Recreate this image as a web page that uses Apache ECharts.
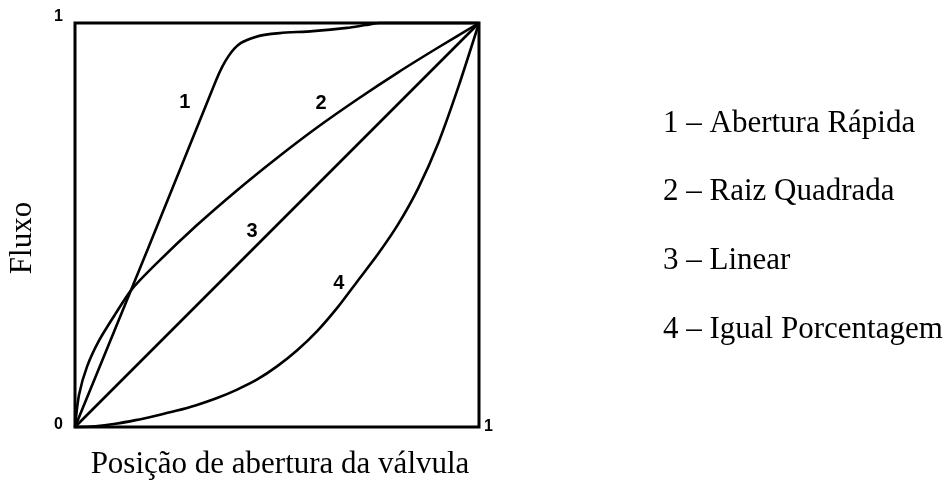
<!DOCTYPE html>
<html>
<head>
<meta charset="utf-8">
<title>Característica de vazão de válvulas</title>
<script src="https://cdn.jsdelivr.net/npm/echarts@6/dist/echarts.min.js"></script>
<style>
  html, body { margin: 0; padding: 0; background: #fff; }
  #chart { width: 952px; height: 483px; }
</style>
</head>
<body>
<div id="chart"></div>
<script>
// Inherent flow characteristics: relative flow vs. relative valve opening (0..1)

// 1 – quick opening
const quickOpening = [
  [0, 0], [0.18, 0.44], [0.35, 0.86], [0.364, 0.891], [0.38, 0.918],
  [0.395, 0.937], [0.41, 0.950], [0.426, 0.958], [0.445, 0.965],
  [0.465, 0.970], [0.507, 0.975], [0.589, 0.980], [0.673, 0.988],
  [0.72, 0.995], [0.755, 1.0], [1, 1]
];

// 2 – square root
const squareRoot = [
  [0, 0], [0.01, 0.08], [0.03, 0.15], [0.06, 0.215], [0.10, 0.28],
  [0.14, 0.34], [0.20, 0.403], [0.30, 0.498], [0.40, 0.585],
  [0.50, 0.666], [0.60, 0.742], [0.70, 0.812], [0.80, 0.878],
  [0.90, 0.940], [1, 1]
];

// 3 – linear
const linear = [
  [0, 0], [1, 1]
];

// 4 – equal percentage
const equalPercentage = [
  [0, 0], [0.05, 0.002], [0.10, 0.008], [0.15, 0.017], [0.20, 0.028],
  [0.25, 0.040], [0.30, 0.054], [0.35, 0.071], [0.40, 0.092],
  [0.45, 0.117], [0.50, 0.150], [0.55, 0.190], [0.60, 0.238],
  [0.65, 0.296], [0.70, 0.362], [0.75, 0.428], [0.80, 0.502],
  [0.85, 0.592], [0.90, 0.705], [0.95, 0.845], [1, 1]
];

// Numerals written next to each curve: [x, y, text]
const curveTags = [
  [0.272, 0.804, '1'],
  [0.609, 0.802, '2'],
  [0.438, 0.483, '3'],
  [0.653, 0.354, '4']
];

// Key on the right-hand side
const legendLines = [
  '1 – Abertura Rápida',
  '2 – Raiz Quadrada',
  '3 – Linear',
  '4 – Igual Porcentagem'
];

// Axis tick text
const yTickLabels = { 0: '0', 1: '1' };
const xTickLabels = { 1: '1' };

const xTitle = 'Posição de abertura da válvula';
const yTitle = 'Fluxo';

const serif = '"Liberation Serif", "Times New Roman", serif';
const sans = '"Liberation Sans", Arial, sans-serif';
const ink = '#000';

const chart = echarts.init(document.getElementById('chart'), null, { renderer: 'canvas' });

function curve(name, data) {
  return {
    name: name,
    type: 'line',
    data: data,
    showSymbol: false,
    smooth: 0.25,
    clip: false,
    silent: true,
    lineStyle: { color: ink, width: 2.6 },
    z: 3
  };
}

const legendGraphics = legendLines.map((t, i) => ({
  type: 'text',
  left: 663,
  top: 108 + i * 68.7,
  style: { text: t, fill: ink, font: '31px ' + serif }
}));

const tickFont = { fontFamily: sans, fontWeight: 'bold', fontSize: 16, color: ink };

chart.setOption({
  animation: false,
  backgroundColor: '#fff',
  grid: {
    left: 75, top: 23, right: 952 - 479, bottom: 483 - 427,
    show: true, borderColor: ink, borderWidth: 3, backgroundColor: 'transparent'
  },
  xAxis: {
    type: 'value', min: 0, max: 1, interval: 1,
    axisLine: { show: false }, axisTick: { show: false }, splitLine: { show: false },
    axisLabel: Object.assign({
      margin: 0,
      align: 'left',
      verticalAlign: 'middle',
      padding: [0, 0, 4, 5],
      formatter: v => xTickLabels[v] || ''
    }, tickFont)
  },
  yAxis: {
    type: 'value', min: 0, max: 1, interval: 1,
    axisLine: { show: false }, axisTick: { show: false }, splitLine: { show: false },
    axisLabel: Object.assign({
      margin: 12,
      formatter: v => (v === 1 ? '{top|' : '{bot|') + (yTickLabels[v] || '') + '}',
      rich: {
        top: Object.assign({ padding: [0, 0, 12, 0] }, tickFont),
        bot: Object.assign({ padding: [0, 0, 4, 0] }, tickFont)
      }
    }, tickFont)
  },
  series: [
    curve('1 – Abertura Rápida', quickOpening),
    curve('2 – Raiz Quadrada', squareRoot),
    curve('3 – Linear', linear),
    curve('4 – Igual Porcentagem', equalPercentage),
    {
      name: 'tags',
      type: 'scatter',
      data: curveTags,
      symbolSize: 0,
      silent: true,
      itemStyle: { opacity: 1, color: ink },
      label: {
        show: true,
        position: 'inside',
        formatter: p => p.value[2],
        color: ink,
        textBorderWidth: 0,
        opacity: 1,
        fontFamily: sans,
        fontWeight: 'bold',
        fontSize: 20
      },
      z: 4
    }
  ],
  graphic: [
    {
      type: 'text',
      x: 280, y: 465,
      style: { text: xTitle, fill: ink, font: '31px ' + serif, align: 'center', verticalAlign: 'middle' }
    },
    {
      type: 'text',
      x: 23, y: 238,
      rotation: Math.PI / 2,
      style: { text: yTitle, fill: ink, font: '31px ' + serif, align: 'center', verticalAlign: 'middle' }
    }
  ].concat(legendGraphics)
});
</script>
</body>
</html>
